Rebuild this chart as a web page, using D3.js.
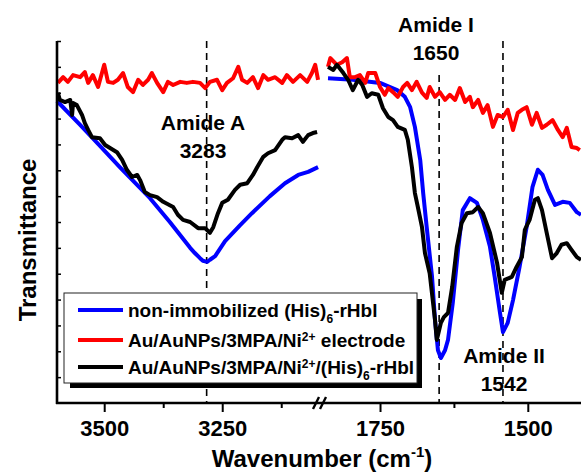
<!DOCTYPE html>
<html>
<head>
<meta charset="utf-8">
<script src="https://cdn.jsdelivr.net/npm/d3@7"></script>
<style>
body { margin: 0; background: #fff; }
text { font-family: "Liberation Sans", Arial, sans-serif; font-weight: bold; fill: #000; }
</style>
</head>
<body>
<div class="canvas"></div>
<script>
// [wavenumber, transmittance (a.u.)]
const blueLeft = [
    [3600, 58.4], [3551, 53.8], [3509, 49.7], [3467, 45.6], [3403, 39.6], [3361, 35.0],
    [3318, 30.0], [3308, 29.0], [3297, 28.0], [3291, 27.5], [3282, 27.3], [3276, 27.7],
    [3265, 28.4], [3244, 31.3], [3212, 34.4], [3187, 36.7], [3149, 40.0], [3117, 42.5],
    [3089, 44.1], [3068, 44.7], [3047, 45.6]
]
const blackLeft = [
    [3598, 60.0], [3594, 58.6], [3583, 58.2], [3572, 58.6], [3568, 55.7], [3566, 58.0],
    [3558, 57.6], [3547, 55.7], [3541, 54.1], [3534, 52.8], [3526, 51.4], [3509, 51.2],
    [3498, 49.9], [3473, 48.5], [3462, 47.0], [3452, 45.1], [3441, 43.7], [3430, 44.1],
    [3424, 43.1], [3414, 40.8], [3403, 40.2], [3388, 39.8], [3375, 38.9], [3354, 37.9],
    [3344, 36.4], [3333, 35.4], [3318, 35.0], [3301, 33.8], [3286, 33.8], [3276, 32.9],
    [3269, 34.0], [3259, 36.7], [3250, 38.7], [3238, 39.3], [3223, 41.2], [3212, 42.2],
    [3197, 42.5], [3185, 44.1], [3176, 45.6], [3163, 47.6], [3153, 48.3], [3138, 48.9],
    [3123, 50.9], [3117, 51.4], [3102, 51.2], [3089, 51.8], [3079, 50.5], [3068, 51.8],
    [3058, 52.2], [3049, 52.4]
]
const redLeft = [
    [3598, 61.9], [3587, 63.0], [3577, 62.1], [3566, 63.4], [3551, 63.0], [3541, 64.0],
    [3534, 61.9], [3524, 63.4], [3513, 61.1], [3500, 65.4], [3492, 62.1], [3481, 61.9],
    [3471, 62.5], [3460, 63.8], [3450, 61.1], [3439, 60.1], [3428, 62.5], [3418, 61.5],
    [3407, 62.5], [3399, 63.8], [3388, 61.9], [3375, 60.1], [3365, 62.1], [3354, 61.5],
    [3339, 62.1], [3325, 61.9], [3312, 62.1], [3297, 61.9], [3286, 60.9], [3276, 62.1],
    [3261, 62.5], [3250, 60.5], [3240, 61.9], [3227, 62.8], [3216, 65.0], [3208, 62.5],
    [3197, 61.9], [3185, 63.0], [3174, 60.9], [3163, 63.4], [3153, 62.5], [3138, 63.0],
    [3123, 61.9], [3113, 63.4], [3100, 62.1], [3085, 63.4], [3070, 62.1], [3060, 63.8],
    [3053, 65.4], [3047, 62.5]
]
const blueRight = [
    [1838, 62.8], [1796, 62.5], [1750, 61.9], [1721, 60.5], [1708, 59.2], [1699, 57.2],
    [1691, 53.4], [1682, 47.0], [1677, 40.6], [1671, 34.0], [1662, 24.4], [1657, 16.1],
    [1652, 10.2], [1647, 8.7], [1640, 10.2], [1635, 12.2], [1627, 19.3], [1618, 29.6],
    [1610, 37.3], [1598, 39.6], [1586, 38.7], [1576, 35.4], [1564, 30.2], [1556, 24.4],
    [1547, 17.4], [1542, 13.7], [1534, 15.5], [1525, 19.9], [1514, 26.3], [1502, 34.0],
    [1492, 41.8], [1483, 45.1], [1475, 44.1], [1466, 41.2], [1454, 38.3], [1441, 38.9],
    [1429, 38.7], [1417, 36.9], [1410, 36.4]
]
const blackRight = [
    [1838, 65.0], [1829, 64.4], [1823, 65.4], [1812, 63.8], [1804, 62.5], [1796, 60.5],
    [1787, 62.5], [1780, 61.5], [1772, 59.2], [1764, 59.9], [1753, 59.6], [1745, 57.0],
    [1736, 55.3], [1728, 54.7], [1720, 53.4], [1708, 52.8], [1703, 50.9], [1696, 45.6],
    [1691, 40.6], [1686, 37.9], [1679, 34.0], [1674, 29.0], [1666, 25.1], [1657, 16.1],
    [1654, 12.2], [1647, 15.5], [1642, 16.6], [1635, 17.4], [1628, 22.4], [1620, 30.2],
    [1612, 34.8], [1603, 36.7], [1593, 36.9], [1584, 37.9], [1576, 36.7], [1564, 32.9],
    [1552, 27.1], [1544, 21.3], [1539, 23.8], [1527, 24.4], [1519, 26.3], [1510, 28.2],
    [1505, 33.5], [1497, 35.4], [1488, 39.3], [1483, 39.6], [1476, 37.3], [1468, 32.9],
    [1459, 28.0], [1451, 29.0], [1443, 30.6], [1434, 30.9], [1426, 29.6], [1417, 28.2],
    [1410, 27.7]
]
const redRight = [
    [1838, 65.0], [1834, 66.7], [1823, 65.4], [1814, 65.9], [1806, 66.7], [1801, 63.0],
    [1792, 63.0], [1784, 63.4], [1775, 61.9], [1770, 63.8], [1758, 63.8], [1750, 61.1],
    [1742, 59.6], [1736, 60.9], [1728, 60.1], [1720, 59.2], [1711, 61.1], [1704, 61.9],
    [1696, 60.5], [1688, 62.1], [1679, 60.0], [1671, 59.0], [1666, 61.1], [1657, 59.2],
    [1649, 60.1], [1640, 58.6], [1632, 59.6], [1623, 58.6], [1615, 60.9], [1606, 58.2],
    [1598, 59.2], [1593, 57.2], [1584, 58.6], [1576, 56.1], [1568, 57.6], [1559, 53.4],
    [1551, 55.7], [1542, 55.3], [1534, 56.7], [1525, 52.8], [1517, 56.1], [1510, 56.7],
    [1502, 57.2], [1493, 53.8], [1485, 56.1], [1476, 53.2], [1468, 53.8], [1458, 54.7],
    [1449, 52.8], [1441, 51.4], [1434, 53.2], [1426, 49.5], [1417, 49.3], [1412, 48.9]
]

const leftTicks = [3500, 3250]
const leftMinorTicks = [3375, 3125]
const rightTicks = [1750, 1500]
const rightMinorTicks = [1625]
const yTicks = d3.range(5, 71, 5)

const peakNames = ['Amide A', 'Amide I', 'Amide II']
const peakWavenumbers = [3283, 1650, 1542]

const dims = {
    width: 581,
    height: 474,
    top: 41,
    bottom: 403,
    left: 57
}

const svg = d3.select('.canvas')
    .append('svg')
    .attr('width', dims.width)
    .attr('height', dims.height)

const xLeft = d3.scaleLinear().domain([3600, 3045]).range([57, 319])
const xRight = d3.scaleLinear().domain([1838, 1410]).range([328, 581])
const y = d3.scaleLinear().domain([0, 70]).range([dims.bottom, dims.top])

// dashed peak markers (drawn first, legend covers them)
const markers = [
    { x: xLeft(peakWavenumbers[0]), top: dims.top },
    { x: xRight(peakWavenumbers[1]), top: 75 },
    { x: xRight(peakWavenumbers[2]), top: dims.top }
]
svg.append('g').selectAll('line')
    .data(markers)
    .enter().append('line')
    .attr('x1', d => d.x).attr('x2', d => d.x)
    .attr('y1', d => d.top).attr('y2', dims.bottom)
    .attr('stroke', '#000')
    .attr('stroke-width', 1.6)
    .attr('stroke-dasharray', '7,5')

// spectra
const series = [
    { color: '#0000ff', left: blueLeft, right: blueRight },
    { color: '#ff0000', left: redLeft, right: redRight },
    { color: '#000000', left: blackLeft, right: blackRight }
]

const lineLeft = d3.line().x(d => xLeft(d[0])).y(d => y(d[1]))
const lineRight = d3.line().x(d => xRight(d[0])).y(d => y(d[1]))

const graph = svg.append('g')
series.forEach(s => {
    graph.append('path')
        .attr('d', lineLeft(s.left))
        .attr('fill', 'none')
        .attr('stroke', s.color)
        .attr('stroke-width', 4)
        .attr('stroke-linejoin', 'round')
    graph.append('path')
        .attr('d', lineRight(s.right))
        .attr('fill', 'none')
        .attr('stroke', s.color)
        .attr('stroke-width', 4)
        .attr('stroke-linejoin', 'round')
})

// y axis, ticks pointing in, no labels
const yAxis = svg.append('g')
    .attr('transform', `translate(${dims.left}, 0)`)
    .call(d3.axisRight(y).tickValues(yTicks).tickSize(4).tickSizeOuter(0).tickFormat(''))
yAxis.select('.domain').remove()
yAxis.selectAll('.tick line').attr('stroke-width', 1.5)
svg.append('line')
    .attr('x1', dims.left).attr('x2', dims.left)
    .attr('y1', dims.top).attr('y2', dims.bottom + 1)
    .attr('stroke', '#000').attr('stroke-width', 2.6)

// x axes
const drawX = (scale, major, minor) => {
    const g = svg.append('g').attr('transform', `translate(0, ${dims.bottom})`)
    g.call(d3.axisBottom(scale).tickValues(major).tickSize(9).tickPadding(8)
        .tickSizeOuter(0).tickFormat(d3.format('d')))
    g.select('.domain').remove()
    g.selectAll('.tick line').attr('stroke-width', 2)
    g.selectAll('.tick text')
        .attr('font-size', 22)
        .attr('font-family', '"Liberation Sans", Arial, sans-serif')
        .attr('font-weight', 'bold')
    const m = svg.append('g').attr('transform', `translate(0, ${dims.bottom})`)
    m.call(d3.axisBottom(scale).tickValues(minor).tickSize(5).tickFormat('').tickSizeOuter(0))
    m.select('.domain').remove()
    m.selectAll('.tick line').attr('stroke-width', 2)
}
drawX(xLeft, leftTicks, leftMinorTicks)
drawX(xRight, rightTicks, rightMinorTicks)

svg.append('line')
    .attr('x1', dims.left - 1).attr('x2', dims.width)
    .attr('y1', dims.bottom).attr('y2', dims.bottom)
    .attr('stroke', '#000').attr('stroke-width', 2.6)

// axis break marks
svg.append('g').selectAll('line')
    .data([0, 7])
    .enter().append('line')
    .attr('x1', d => 313 + d).attr('y1', dims.bottom + 6)
    .attr('x2', d => 319 + d).attr('y2', dims.bottom - 6)
    .attr('stroke', '#000').attr('stroke-width', 2.4)

// axis titles
const xTitle = svg.append('text')
    .attr('x', 322).attr('y', 467)
    .attr('text-anchor', 'middle')
    .attr('font-size', 24)
xTitle.append('tspan').text('Wavenumber (cm')
xTitle.append('tspan').text('-1').attr('font-size', 15).attr('dy', -10)
xTitle.append('tspan').text(')').attr('dy', 10)

svg.append('text')
    .attr('transform', 'translate(36, 240) rotate(-90)')
    .attr('text-anchor', 'middle')
    .attr('font-size', 24)
    .text('Transmittance')

// peak annotations
const notes = [
    { x: 203, y: 130 },
    { x: 436, y: 32 },
    { x: 504, y: 363 }
]
notes.forEach((n, i) => {
    svg.append('text')
        .attr('x', n.x).attr('y', n.y)
        .attr('text-anchor', 'middle')
        .attr('font-size', 21)
        .text(peakNames[i])
    svg.append('text')
        .attr('x', n.x).attr('y', n.y + 28)
        .attr('text-anchor', 'middle')
        .attr('font-size', 21)
        .text(peakWavenumbers[i])
})

// legend
const legend = svg.append('g')
legend.append('rect')
    .attr('x', 70).attr('y', 299)
    .attr('width', 352).attr('height', 89)
    .attr('fill', '#000')
legend.append('rect')
    .attr('x', 64).attr('y', 293)
    .attr('width', 353).attr('height', 90)
    .attr('fill', '#fff')
    .attr('stroke', '#222')
    .attr('stroke-width', 1)

const legendRows = [
    [['non-immobilized (His)', 0], ['6', 1], ['-rHbl', 0]],
    [['Au/AuNPs/3MPA/Ni', 0], ['2+', -1], [' electrode', 0]],
    [['Au/AuNPs/3MPA/Ni', 0], ['2+', -1], ['/(His)', 0], ['6', 1], ['-rHbl', 0]]
]
const rowY = [310, 340, 367]

legendRows.forEach((row, i) => {
    legend.append('line')
        .attr('x1', 78).attr('x2', 123)
        .attr('y1', rowY[i]).attr('y2', rowY[i])
        .attr('stroke', series[i].color)
        .attr('stroke-width', 4)
    const t = legend.append('text')
        .attr('x', 128).attr('y', rowY[i] + 7)
        .attr('font-size', 19)
    let shift = 0
    row.forEach(([str, pos]) => {
        const dy = pos * 6 - shift
        shift = pos * 6
        t.append('tspan')
            .text(str)
            .attr('dy', dy)
            .attr('font-size', pos === 0 ? 19 : 12)
    })
})
</script>
</body>
</html>
